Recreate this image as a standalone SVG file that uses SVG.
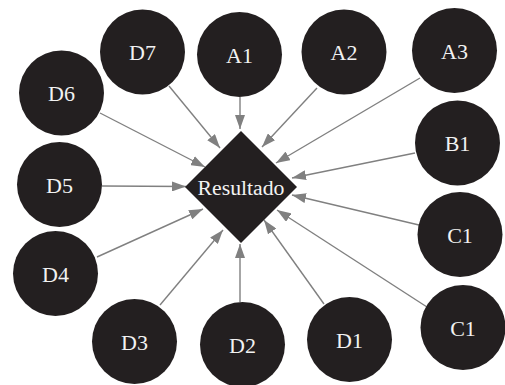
<svg xmlns="http://www.w3.org/2000/svg" width="505" height="385" viewBox="0 0 505 385">
<style>
.n circle{fill:#231f20}
.n text{fill:#f2f2f2;font-family:"Liberation Serif",serif;font-size:22px;text-anchor:middle}
.c line{stroke:#808080;stroke-width:1.4;marker-end:url(#ah)}
</style>
<defs>
<marker id="ah" viewBox="0 0 14 10" refX="14" refY="5" markerWidth="14" markerHeight="10" markerUnits="userSpaceOnUse" orient="auto">
<path d="M0,0 L14,5 L0,10 z" fill="#808080"/>
</marker>
</defs>
<rect width="505" height="385" fill="#fff"/>
<g class="c">
<line x1="169" y1="86" x2="220" y2="148"/>
<line x1="100" y1="113" x2="205" y2="167"/>
<line x1="240" y1="97" x2="240" y2="129"/>
<line x1="102" y1="186" x2="186" y2="186.5"/>
<line x1="317" y1="88" x2="262" y2="147"/>
<line x1="420" y1="78" x2="276" y2="163"/>
<line x1="415" y1="153" x2="292" y2="178"/>
<line x1="97" y1="257" x2="203" y2="209"/>
<line x1="160" y1="305" x2="223" y2="230"/>
<line x1="240" y1="302" x2="240" y2="244"/>
<line x1="419" y1="225" x2="292" y2="195"/>
<line x1="427" y1="307" x2="277" y2="210"/>
<line x1="324" y1="304" x2="264" y2="220"/>
</g>
<g id="resultado">
<polygon points="241,131 297,187 241,243 185,187" fill="#231f20"/>
<text x="241" y="195" fill="#f2f2f2" font-family="Liberation Serif, serif" font-size="20" text-anchor="middle" textLength="87" lengthAdjust="spacingAndGlyphs">Resultado</text>
</g>
<g id="d7" class="n"><circle cx="142.5" cy="52" r="42.5"/><text x="142.5" y="60">D7</text></g>
<g id="a1" class="n"><circle cx="239.5" cy="54.5" r="42.5"/><text x="239.5" y="62.5">A1</text></g>
<g id="a2" class="n"><circle cx="344" cy="52" r="42.5"/><text x="344" y="60">A2</text></g>
<g id="a3" class="n"><circle cx="454.5" cy="50.5" r="42.5"/><text x="454.5" y="58.5">A3</text></g>
<g id="d6" class="n"><circle cx="61.5" cy="93" r="42.5"/><text x="61.5" y="101">D6</text></g>
<g id="b1" class="n"><circle cx="457.5" cy="143" r="42.5"/><text x="457.5" y="151">B1</text></g>
<g id="d5" class="n"><circle cx="59.5" cy="184.5" r="42.5"/><text x="59.5" y="192.5">D5</text></g>
<g id="c1a" class="n"><circle cx="460" cy="234.5" r="42.5"/><text x="460" y="242.5">C1</text></g>
<g id="d4" class="n"><circle cx="55.5" cy="273.5" r="42.5"/><text x="55.5" y="281.5">D4</text></g>
<g id="c1b" class="n"><circle cx="463" cy="327.5" r="42.5"/><text x="463" y="335.5">C1</text></g>
<g id="d3" class="n"><circle cx="134.5" cy="341.5" r="42.5"/><text x="134.5" y="349.5">D3</text></g>
<g id="d2" class="n"><circle cx="242.5" cy="344.5" r="42.5"/><text x="242.5" y="352.5">D2</text></g>
<g id="d1" class="n"><circle cx="349.5" cy="339.5" r="42.5"/><text x="349.5" y="347.5">D1</text></g>
</svg>
